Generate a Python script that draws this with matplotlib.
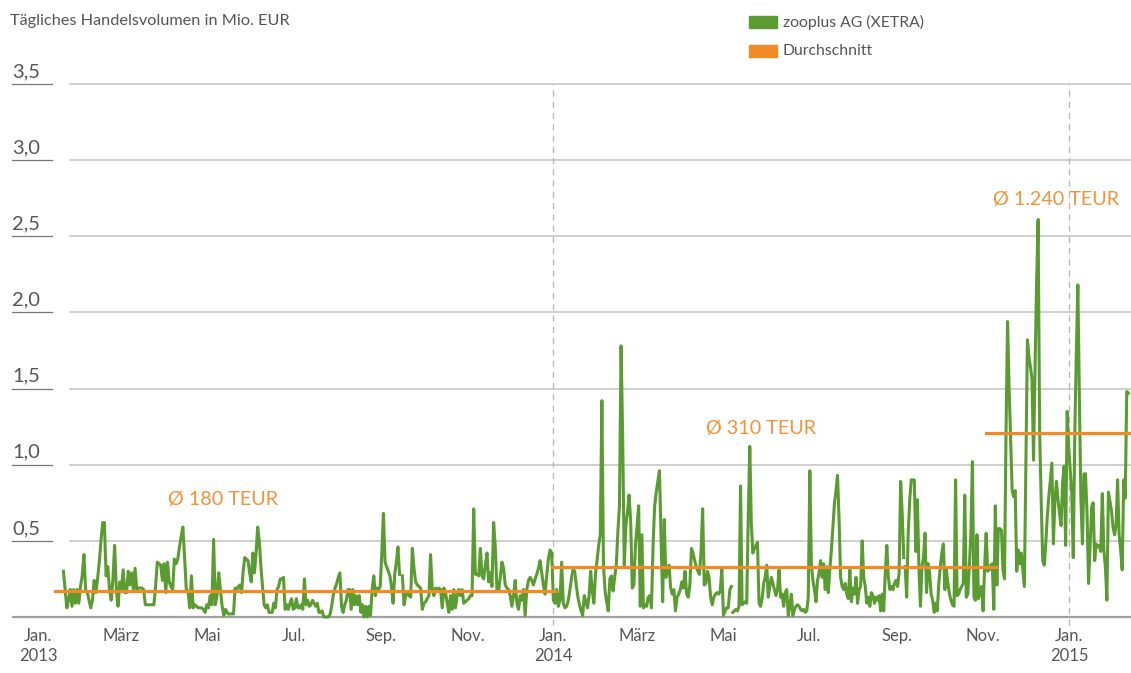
import matplotlib
matplotlib.use('Agg')
import matplotlib.pyplot as plt
from matplotlib.patches import Rectangle
import pandas as pd

plt.rcParams['font.family'] = ['Lato', 'DejaVu Sans']

# daily trading volume (Mio. EUR)
vol_a = [0.30, 0.18, 0.06, 0.11, 0.18, 0.07, 0.18, 0.09, 0.18, 0.09, 0.20, 0.27, 0.41, 0.18, 0.16,
         0.11, 0.06, 0.11, 0.24, 0.16, 0.25, 0.36, 0.50, 0.62, 0.62, 0.27, 0.33, 0.18, 0.11, 0.25,
         0.47, 0.18, 0.07, 0.23, 0.18, 0.31, 0.16, 0.16, 0.30, 0.21, 0.29, 0.18, 0.32, 0.18, 0.19,
         0.19, 0.19, 0.18, 0.08, 0.08, 0.08, 0.08, 0.08, 0.08, 0.20, 0.36, 0.35, 0.34, 0.24, 0.35,
         0.16, 0.36, 0.23, 0.20, 0.18, 0.38, 0.35, 0.38, 0.46, 0.53, 0.59, 0.39, 0.18, 0.17, 0.06,
         0.27, 0.06, 0.08, 0.07, 0.06, 0.06, 0.06, 0.05, 0.03, 0.08, 0.06, 0.14, 0.08, 0.51, 0.08,
         0.14, 0.29, 0.18, 0.07, 0.01, 0.05, 0.03]
vol_b = [0.02, 0.02, 0.02, 0.02, 0.19, 0.18, 0.20, 0.21, 0.16, 0.30, 0.39, 0.38, 0.37, 0.29, 0.23,
         0.42, 0.29, 0.42, 0.59, 0.50, 0.33, 0.20, 0.08, 0.06, 0.08, 0.03, 0.03, 0.03, 0.09, 0.06,
         0.18, 0.20, 0.25, 0.25, 0.26, 0.05, 0.08, 0.05, 0.09, 0.12, 0.05, 0.06, 0.12, 0.06, 0.06,
         0.08, 0.05, 0.25, 0.08, 0.11, 0.07, 0.08, 0.11, 0.09, 0.07, 0.09, 0.03, 0.03, 0.04, 0.00,
         0.00, 0.00, 0.00, 0.02, 0.08, 0.15, 0.19, 0.22, 0.26, 0.29, 0.07, 0.03, 0.08, 0.11, 0.18,
         0.18, 0.05, 0.18, 0.08, 0.14, 0.08, 0.14, 0.03, 0.08, 0.00, 0.07, 0.00, 0.07, 0.01, 0.18,
         0.27, 0.14, 0.19, 0.18, 0.20, 0.42, 0.68, 0.36, 0.33, 0.30, 0.27, 0.20, 0.09, 0.28, 0.36,
         0.46, 0.28]
vol_c = [0.27, 0.08, 0.14, 0.16, 0.14, 0.13, 0.45, 0.32, 0.23, 0.21, 0.20, 0.19, 0.05, 0.09, 0.10,
         0.12, 0.14, 0.41, 0.18, 0.14, 0.19, 0.18, 0.19, 0.18, 0.06, 0.19, 0.16, 0.09, 0.03, 0.14,
         0.05, 0.18, 0.06, 0.14, 0.18, 0.14, 0.18, 0.09, 0.10, 0.11, 0.12, 0.14, 0.14, 0.71, 0.28,
         0.28, 0.27, 0.45, 0.27, 0.25, 0.34, 0.42, 0.23, 0.29, 0.20, 0.62, 0.46, 0.18, 0.17, 0.26,
         0.36, 0.32, 0.21, 0.19, 0.18, 0.14, 0.07, 0.14, 0.24, 0.09, 0.05, 0.14, 0.11, 0.18, 0.01,
         0.18, 0.24, 0.26, 0.24, 0.21, 0.25, 0.28, 0.32, 0.37, 0.29, 0.21, 0.15, 0.27, 0.38, 0.44,
         0.42, 0.11, 0.09, 0.18, 0.07, 0.11, 0.36, 0.09, 0.06, 0.07, 0.11, 0.18, 0.26, 0.32]
vol_d = [0.30, 0.21, 0.13, 0.08, 0.04, 0.01, 0.14, 0.10, 0.06, 0.14, 0.30, 0.17, 0.09, 0.28, 0.37,
         0.47, 0.54, 1.42, 0.34, 0.17, 0.10, 0.04, 0.25, 0.27, 0.17, 0.26, 0.34, 0.56, 0.73, 1.78,
         1.19, 0.34, 0.60, 0.69, 0.80, 0.63, 0.19, 0.21, 0.47, 0.60, 0.73, 0.07, 0.54, 0.06, 0.08,
         0.07, 0.13, 0.14, 0.06, 0.47, 0.73, 0.82, 0.89, 0.96, 0.52, 0.10, 0.64, 0.26, 0.30, 0.34,
         0.19, 0.15, 0.18, 0.04, 0.13, 0.15, 0.18, 0.23, 0.19, 0.30, 0.15, 0.13, 0.21, 0.45, 0.42,
         0.37, 0.33, 0.30, 0.28, 0.43, 0.71, 0.21, 0.22, 0.30, 0.26, 0.13, 0.08, 0.13, 0.15, 0.16,
         0.15, 0.17, 0.32, 0.01, 0.04, 0.06, 0.06, 0.18, 0.20]
vol_e = [0.03, 0.04, 0.05, 0.04, 0.07, 0.86, 0.08, 0.09, 0.10, 0.09, 0.66, 1.12, 0.61, 0.42, 0.45,
         0.47, 0.49, 0.09, 0.07, 0.12, 0.22, 0.26, 0.34, 0.13, 0.20, 0.26, 0.22, 0.18, 0.14, 0.18,
         0.31, 0.13, 0.15, 0.07, 0.16, 0.18, 0.01, 0.07, 0.15, 0.01, 0.05, 0.07, 0.08, 0.07, 0.05,
         0.04, 0.05, 0.03, 0.04, 0.13, 0.96, 0.35, 0.24, 0.18, 0.10, 0.24, 0.29, 0.37, 0.26, 0.35,
         0.18, 0.33, 0.16, 0.31, 0.44, 0.59, 0.75, 0.83, 0.93, 0.64, 0.26, 0.20, 0.18, 0.22, 0.15,
         0.12, 0.31, 0.10, 0.19, 0.15, 0.26, 0.09, 0.18, 0.20, 0.50, 0.26, 0.20, 0.09, 0.13, 0.07,
         0.16, 0.14, 0.09, 0.13, 0.11, 0.14, 0.04, 0.15, 0.04, 0.29, 0.47, 0.26, 0.18, 0.20, 0.18,
         0.22, 0.24, 0.20, 0.29, 0.89, 0.68, 0.39]
vol_f = [0.33, 0.13, 0.55, 0.77, 0.90, 0.90, 0.90, 0.43, 0.77, 0.33, 0.07, 0.33, 0.39, 0.55, 0.16,
         0.35, 0.29, 0.15, 0.11, 0.03, 0.09, 0.04, 0.22, 0.33, 0.42, 0.48, 0.18, 0.31, 0.22, 0.15,
         0.11, 0.08, 0.07, 0.90, 0.14, 0.15, 0.18, 0.20, 0.22, 0.80, 0.13, 0.15, 0.33, 0.55, 1.02,
         0.13, 0.11, 0.54, 0.12, 0.18, 0.20, 0.04, 0.33, 0.55, 0.30, 0.31, 0.34, 0.35, 0.05, 0.73,
         0.21, 0.58, 0.58, 0.57, 0.31, 0.25, 1.21, 1.94, 1.51, 1.16, 0.83, 0.79, 0.83, 0.30, 0.44,
         0.35, 0.42, 0.31, 0.20, 0.99, 1.82, 1.71, 1.64, 1.56, 1.03, 1.64, 2.19, 2.61, 1.21, 0.77,
         0.37, 0.34, 0.48, 0.66, 0.79, 0.90, 1.01, 0.48, 0.77, 0.89, 0.77, 0.68, 0.60, 0.88, 0.99,
         0.47, 1.35, 1.12, 0.96, 0.81, 0.39, 1.21, 1.73, 2.18, 1.43, 0.77, 0.48, 0.94, 0.94, 0.68,
         0.22, 0.46, 0.72, 0.75, 0.37, 0.48, 0.46, 0.47, 0.43, 0.81, 0.44, 0.33, 0.11, 0.82, 0.76,
         0.70, 0.59, 0.54, 0.60, 0.90, 0.54, 0.44, 0.31, 0.90, 0.78, 1.48, 1.47]

stretches = [('2013-01-19', '2013-05-15', vol_a),
             ('2013-05-16', '2013-09-14', vol_b),
             ('2013-09-16', '2014-01-15', vol_c),
             ('2014-01-16', '2014-05-07', vol_d),
             ('2014-05-08', '2014-09-06', vol_e),
             ('2014-09-07', '2015-02-12', vol_f)]

avg_periods = [('2013-01-13', '2014-01-02'), ('2013-12-31', '2014-11-10'), ('2014-11-03', '2015-02-14')]
avg_values = [0.17, 0.325, 1.21]
avg_labels = ['Ø 180 TEUR', 'Ø 310 TEUR', 'Ø 1.240 TEUR']
avg_label_pos = [('2013-04-03', 0.77), ('2014-04-19', 1.24), ('2014-11-08', 2.74)]

yticks = [0.5, 1.0, 1.5, 2.0, 2.5, 3.0, 3.5]
ytick_labels = ['0,5', '1,0', '1,5', '2,0', '2,5', '3,0', '3,5']
xtick_dates = ['2013-01-01', '2013-03-01', '2013-05-01', '2013-07-01', '2013-09-01', '2013-11-01',
               '2014-01-01', '2014-03-01', '2014-05-01', '2014-07-01', '2014-09-01', '2014-11-01',
               '2015-01-01']
xtick_labels = ['Jan.\n2013', 'März', 'Mai', 'Jul.', 'Sep.', 'Nov.',
                'Jan.\n2014', 'März', 'Mai', 'Jul.', 'Sep.', 'Nov.', 'Jan.\n2015']
year_lines = ['2014-01-01', '2015-01-01']

GREEN = '#5b9c32'
ORANGE = '#f28a26'
GREY = '#555555'

fig = plt.figure(figsize=(11.31, 6.73), dpi=100)
W, H = 1131, 673
ax = fig.add_axes([12 / W, (H - 632.2) / H, 1119 / W, (632.2 - 76.3) / H])
ax.set_xlim(pd.Timestamp('2012-12-13 14:00'), pd.Timestamp('2015-02-13 22:00'))
ax.set_ylim(-0.1, 3.55)
ax.axis('off')

grid_start = 58 / 1119
for y, lab in zip(yticks, ytick_labels):
    ax.axhline(y, xmin=grid_start, xmax=1, color='#cccccc', lw=1.3, zorder=1)
    ax.axhline(y, xmin=0, xmax=40 / 1119, color='#777777', lw=0.9, zorder=1)
    ax.text(0, y + 0.045, lab, transform=ax.get_yaxis_transform(), ha='left', va='baseline',
            fontsize=14.5, color=GREY)
ax.axhline(0, xmin=0, xmax=1, color='#a0a0a0', lw=1.6, zorder=1)

for d in year_lines:
    ax.vlines(pd.Timestamp(d), -0.05, 3.5, color='#b5b5b5', lw=0.9, linestyles=(0, (5, 4)), zorder=1)

for start, end, vals in stretches:
    dates = pd.date_range(start, end, periods=len(vals))
    ax.plot(dates, vals, color=GREEN, lw=2.2, solid_joinstyle='round', zorder=3)

for (s, e), v in zip(avg_periods, avg_values):
    ax.plot([pd.Timestamp(s), pd.Timestamp(e)], [v, v], color=ORANGE, lw=2.3, zorder=4)
for lab, (d, y) in zip(avg_labels, avg_label_pos):
    ax.text(pd.Timestamp(d), y, lab, color='#f39237', fontsize=14.2, ha='left', va='center')

for d, lab in zip(xtick_dates, xtick_labels):
    ax.text(pd.Timestamp(d), -0.07, lab, ha='center', va='top', fontsize=12, color=GREY,
            linespacing=1.3)

fig.text(10 / W, 1 - 21 / H, 'Tägliches Handelsvolumen in Mio. EUR', fontsize=11.7, color=GREY,
         ha='left', va='center')

legend_items = [('zooplus AG (XETRA)', GREEN), ('Durchschnitt', ORANGE)]
for i, (lab, col) in enumerate(legend_items):
    yc = 22 + i * 29
    fig.add_artist(Rectangle((749 / W, 1 - (yc + 6) / H), 28 / W, 12 / H, color=col,
                             transform=fig.transFigure))
    fig.text(783 / W, 1 - yc / H, lab, fontsize=11.3, color=GREY, ha='left', va='center')

fig.savefig('out.png', dpi=100)
